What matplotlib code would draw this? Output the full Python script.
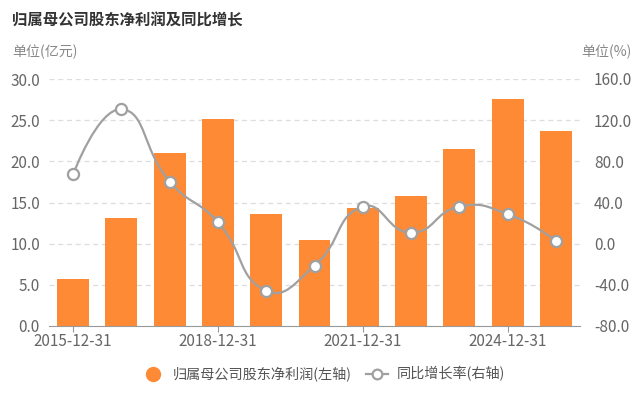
import matplotlib
matplotlib.use("Agg")
import matplotlib.pyplot as plt
import numpy as np
from matplotlib.path import Path
from matplotlib.patches import PathPatch
from matplotlib.lines import Line2D

plt.rcParams['font.family'] = ['Noto Sans CJK SC', 'DejaVu Sans']

categories = ["2015-12-31", "2016-12-31", "2017-12-31", "2018-12-31", "2019-12-31",
              "2020-12-31", "2021-12-31", "2022-12-31", "2023-12-31", "2024-12-31", "2025-12-31"]
profit = [5.7, 13.1, 21.0, 25.2, 13.6, 10.5, 14.3, 15.8, 21.5, 27.6, 23.7]
growth = [67.4, 130.6, 60.3, 20.8, -45.7, -21.4, 36.0, 10.7, 36.0, 28.9, 2.9]
left_ticks = [0, 5, 10, 15, 20, 25, 30]
right_ticks = [-80, -40, 0, 40, 80, 120, 160]
shown_labels = ["2015-12-31", "2018-12-31", "2021-12-31", "2024-12-31"]

bar_color = '#FF8A35'
line_color = '#A0A0A0'
text_color = '#666666'
grid_color = '#DDDDDD'

fig = plt.figure(figsize=(6.4, 3.96), dpi=100)
ax = fig.add_axes([49/640, 1-326/396, 531/640, 247/396])
ax2 = ax.twinx()

x = np.arange(len(categories))
ax.bar(x, profit, width=0.66, color=bar_color, zorder=2)
ax.set_xlim(-0.5, len(categories)-0.5)
ax.set_ylim(0, 30)
ax.set_yticks(left_ticks)
ax.set_yticklabels([f"{v:.1f}" for v in left_ticks])
ax2.set_ylim(-80, 160)
ax2.set_yticks(right_ticks)
ax2.set_yticklabels([f"{v:.1f}" for v in right_ticks])

for v in left_ticks[1:]:
    ax.axhline(v, color=grid_color, lw=0.9, ls=(0, (4, 3)), zorder=0)

tick_pos = [categories.index(c) for c in shown_labels]
ax.set_xticks(tick_pos)
ax.set_xticklabels(shown_labels)

for a in (ax, ax2):
    for s in a.spines.values():
        s.set_visible(False)
ax.spines['bottom'].set_visible(True)
ax.spines['bottom'].set_color('#999999')
ax.tick_params(axis='x', colors='#999999', length=4, labelcolor=text_color, labelsize=11, pad=1)
ax.tick_params(axis='y', length=0, labelcolor=text_color, labelsize=11, pad=6.5)
ax2.tick_params(axis='y', length=0, labelcolor=text_color, labelsize=11, pad=10)

# smooth line (ECharts-style bezier) in display space
fig.canvas.draw()
pts = ax2.transData.transform(np.column_stack([x, growth]))
smooth = 0.5
n = len(pts)
verts = [tuple(pts[0])]
codes = [Path.MOVETO]
cp_next = pts[0].copy()
for i in range(n - 1):
    p = pts[i]
    q = pts[i + 1]
    if i == 0:
        c1 = p.copy()
    else:
        c1 = cp_next
    if i + 1 == n - 1:
        c2 = q.copy()
    else:
        prev, nxt = pts[i], pts[i + 2]
        v = nxt - prev
        d0 = np.linalg.norm(q - prev)
        d1 = np.linalg.norm(nxt - q)
        r = d1 / (d0 + d1)
        c2 = q - v * smooth * (1 - r)
        cp_next = q + v * smooth * r
        c2[0] = max(prev[0], min(q[0], c2[0]))
        cp_next[0] = max(q[0], min(nxt[0], cp_next[0]))
    verts += [tuple(c1), tuple(c2), tuple(q)]
    codes += [Path.CURVE4] * 3
inv = ax2.transData.inverted()
dverts = inv.transform(np.array(verts))
patch = PathPatch(Path(dverts, codes), facecolor='none', edgecolor=line_color, lw=1.6, zorder=3)
ax2.add_patch(patch)
ax2.plot(x, growth, ls='none', marker='o', ms=8, mfc='white', mec=line_color, mew=1.6, zorder=4)

fig.text(12/640, 1-20/396, "归属母公司股东净利润及同比增长", fontsize=11.1, fontweight='bold',
         color='#333333', ha='left', va='center')
fig.text(12/640, 1-52/396, "单位(亿元)", fontsize=10.1, color='#888888', ha='left', va='center')
fig.text(631/640, 1-52/396, "单位(%)", fontsize=10.1, color='#888888', ha='right', va='center')

handles = [Line2D([], [], ls='none', marker='o', ms=10, mfc=bar_color, mec=bar_color),
           Line2D([], [], color=line_color, lw=1.6, marker='o', ms=7, mfc='white', mec=line_color, mew=1.6)]
fig.legend(handles, ["归属母公司股东净利润(左轴)", "同比增长率(右轴)"], loc='center',
           bbox_to_anchor=(0.505, 1-374/396), ncol=2, frameon=False, fontsize=10.2,
           labelcolor='#555555', handlelength=1.6, columnspacing=1.0, handletextpad=0.6)

fig.savefig("out.png", dpi=100)
